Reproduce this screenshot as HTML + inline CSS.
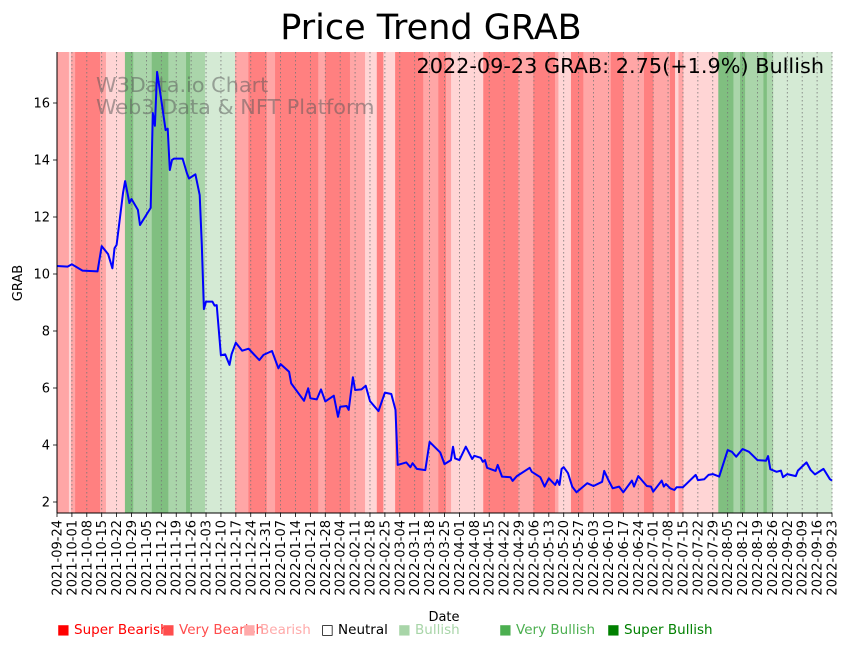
<!DOCTYPE html>
<html><head><meta charset="utf-8"><style>
body{margin:0;background:#fff;width:849px;height:646px;overflow:hidden;font-family:"Liberation Sans",sans-serif}
svg text{font-family:"DejaVu Sans","Liberation Sans",sans-serif}
</style></head><body>
<svg id="c" width="849" height="646" viewBox="0 0 849 646"></svg>
<script>
const bandStarts=[0,5.6,6.6,8.5,20.2,23,31.9,35.8,44.5,52.3,60.6,62.5,69.5,83.6,89.9,98.5,102.4,122.7,125.9,137.6,144.7,150.2,153.3,158.8,172,179.1,182.7,185.1,200.2,216.7,223.7,233.9,235.5,241.4,247.2,260.1,266,275.7,280.1,287.9,290.3,291.9,294.2,310.6,317.7,320.8,323.2,331.8,333.4,336.4];
const bandLevels=[-2,-1,-2,-3,-2,-1,3,2,3,2,3,2,1,-2,-3,-2,-3,-2,-3,-2,-1,-3,-1,-3,-2,-3,-2,-1,-3,-2,-3,-2,-1,-3,-2,-3,-2,-3,-2,-3,-1,-2,-1,3,2,3,2,3,2,1];
const priceDays=[0,5,7,12,19,21,24,26,27,28,31,32,34,35,38,39,44,45,46,47,49,51,52,53,54,55,59,61,62,65,67,68,69,70,73,74,75,77,79,81,82,84,87,90,95,97,101,104,105,109,110,116,118,119,122,124,126,130,132,133,136,137,139,140,143,145,147,151,154,157,159,160,164,166,167,169,173,175,180,182,185,186,187,189,192,195,196,199,200,201,202,206,207,209,213,214,216,222,223,227,229,231,234,235,236,237,238,240,242,244,249,252,256,257,259,261,264,266,270,271,273,277,279,280,284,285,286,288,290,291,294,300,301,304,306,308,311,315,317,319,322,325,329,333,334,335,338,340,341,343,347,348,352,354,356,360,363,364];
const priceValues=[10.28,10.26,10.34,10.12,10.09,10.98,10.7,10.2,10.9,11.02,12.84,13.26,12.49,12.63,12.25,11.72,12.32,15.65,15.2,17.09,16.1,15.05,15.1,13.65,14.0,14.05,14.05,13.54,13.35,13.5,12.77,11.02,8.77,9.03,9.03,8.89,8.91,7.15,7.18,6.81,7.19,7.59,7.31,7.38,6.98,7.16,7.3,6.69,6.84,6.57,6.16,5.55,5.99,5.64,5.6,5.95,5.53,5.73,4.99,5.34,5.37,5.23,6.38,5.93,5.95,6.08,5.54,5.19,5.84,5.79,5.23,3.3,3.39,3.22,3.36,3.16,3.12,4.11,3.74,3.33,3.47,3.94,3.53,3.47,3.94,3.51,3.62,3.55,3.41,3.47,3.2,3.09,3.3,2.89,2.87,2.74,2.91,3.2,3.06,2.87,2.54,2.83,2.6,2.77,2.6,3.16,3.22,3.01,2.54,2.34,2.66,2.56,2.71,3.09,2.77,2.48,2.54,2.34,2.75,2.54,2.91,2.56,2.54,2.36,2.75,2.54,2.63,2.48,2.42,2.52,2.52,2.95,2.77,2.8,2.95,2.98,2.89,3.82,3.76,3.59,3.86,3.76,3.47,3.45,3.61,3.15,3.06,3.1,2.87,2.98,2.91,3.1,3.39,3.12,2.97,3.16,2.8,2.75];
const yTicks=[2,4,6,8,10,12,14,16];
const legendLabels=["Super Bearish","Very Bearish","Bearish","Neutral","Bullish","Very Bullish","Super Bullish"];
const legendColors=["#ff0000","#ff4d4d","#ffaaaa","#000000","#a8d5a8","#4caf50","#008000"];
const levelColors={"-3":"#ff8080","-2":"#ffa6a6","-1":"#ffd5d5","1":"#d4ead4","2":"#aad5aa","3":"#80bf80"};
const X0=57,X1=832,Y0=52,Y1=513,DAYS=364;
const xs=d=>X0+d*(X1-X0)/DAYS;
const ys=v=>502-(v-2)*28.5;
const svg=document.getElementById('c');const NS='http://www.w3.org/2000/svg';
function mk(t,a,p){const e=document.createElementNS(NS,t);for(const k in a)e.setAttribute(k,a[k]);(p||svg).appendChild(e);return e;}
for(let i=0;i<bandStarts.length;i++){const s=bandStarts[i],e=i+1<bandStarts.length?bandStarts[i+1]:365;
const r=mk('rect',{x:xs(s),y:Y0,width:Math.max(0,Math.min(xs(e),X1)-xs(s))+0.3,height:Y1-Y0,fill:levelColors[bandLevels[i]]});

}
let w=mk('text',{x:96,y:92,'font-size':20.8,fill:'#555','fill-opacity':0.5});w.textContent='W3Data.io Chart';

w=mk('text',{x:96,y:114,'font-size':20.8,fill:'#555','fill-opacity':0.5});w.textContent='Web3 Data & NFT Platform';

const start=Date.UTC(2021,8,24);
for(let i=0;i<=52;i++){const d=i*7,x=xs(d);
const g=mk('line',{x1:x,x2:x,y1:Y0,y2:Y1,stroke:'#777','stroke-width':0.8,'stroke-dasharray':'1.5,2.5'});

mk('line',{x1:x,x2:x,y1:Y1,y2:Y1+4,stroke:'#000','stroke-width':0.8});
const dt=new Date(start+d*86400000);const lab=dt.toISOString().slice(0,10);
const t=mk('text',{x:0,y:0,'font-size':13,'text-anchor':'end',transform:`translate(${x+4.5},${Y1+7}) rotate(-90)`});t.textContent=lab;
}
yTicks.forEach(v=>{const y=ys(v);mk('line',{x1:X0-4,x2:X0,y1:y,y2:y,stroke:'#000','stroke-width':0.8});
const t=mk('text',{x:X0-7,y:y+4.5,'font-size':13,'text-anchor':'end'});t.textContent=v;
});
const pts=priceDays.map((d,i)=>xs(d).toFixed(1)+','+ys(priceValues[i]).toFixed(1)).join(' ');
const pl=mk('polyline',{points:pts,fill:'none',stroke:'#0000ff','stroke-width':2,'stroke-linejoin':'round'});

mk('line',{x1:X0,x2:X0,y1:Y0,y2:Y1,stroke:'#000','stroke-width':1});
mk('line',{x1:X0,x2:X1,y1:Y1,y2:Y1,stroke:'#000','stroke-width':1});
let t=mk('text',{x:431,y:39,'font-size':35,'text-anchor':'middle'});t.textContent='Price Trend GRAB';

t=mk('text',{x:824,y:73,'font-size':20.8,'text-anchor':'end'});t.textContent='2022-09-23 GRAB: 2.75(+1.9%) Bullish';

t=mk('text',{x:0,y:0,'font-size':13,'text-anchor':'middle',transform:'translate(22,283) rotate(-90)'});t.textContent='GRAB';

t=mk('text',{x:444,y:621,'font-size':13,'text-anchor':'middle'});t.textContent='Date';

const lx=[57,162,243,321,398,499,607];
legendLabels.forEach((l,i)=>{const e=mk('text',{x:lx[i],y:634,'font-size':13.5,fill:legendColors[i]});
e.textContent=(i===3?'\u25A1 ':'\u25A0 ')+l;
});
</script>
</body></html>
